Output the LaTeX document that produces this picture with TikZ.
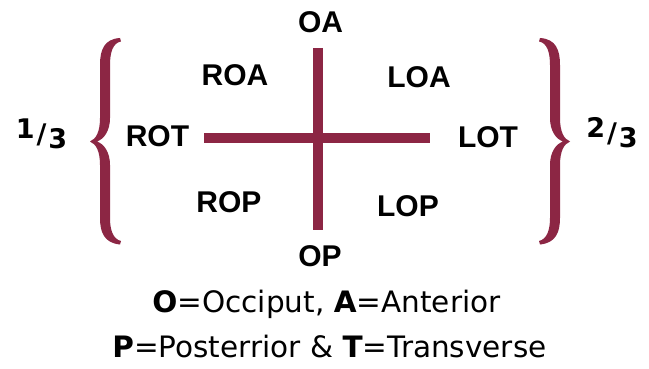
\documentclass[tikz,border=0pt]{standalone}
\usepackage{fontspec}
\setmainfont{Liberation Sans}
\newfontfamily\dejavu{DejaVu Sans}
\definecolor{maroon}{RGB}{140,38,68}
\tikzset{
  lbl/.style={font=\fontsize{30}{36}\selectfont\bfseries, inner sep=0pt, anchor=center},
  cross/.style={draw=maroon, line width=10pt},
  bracefill/.style={fill=maroon, draw=none},
  frac/.style={font=\dejavu\fontsize{27}{30}\selectfont\bfseries, inner sep=0pt},
  legend/.style={font=\dejavu\fontsize{29.5}{34}\selectfont, inner sep=0pt}
}
\newcommand{\mybracepath}{%
  (120,38) .. controls (104,39) and (100,50) .. (100,65)
  -- (100,118) .. controls (100,132) and (96,139) .. (90,141.5)
  .. controls (96,144) and (100,151) .. (100,165)
  -- (100,218) .. controls (100,232) and (104,243) .. (120,244.5)
  -- (121,241) .. controls (113,239) and (110,230) .. (110,218)
  -- (110,165) .. controls (110,152) and (104,144) .. (97,141.5)
  .. controls (104,139) and (110,131) .. (110,118)
  -- (110,65) .. controls (110,52) and (113,43) .. (121,41.5) -- cycle}
\begin{document}
\begin{tikzpicture}[x=1pt,y=-1pt]
\useasboundingbox (0,0) rectangle (649,369);
% cross
\coordinate (vt) at (318,48);
\coordinate (vb) at (318,230);
\coordinate (hl) at (204,138.5);
\coordinate (hr) at (430,138.5);
\draw[cross] (vt) -- (vb);
\draw[cross] (hl) -- (hr);
% braces
\fill[bracefill] \mybracepath;
\begin{scope}[shift={(660,0)}, xscale=-1]
\fill[bracefill] \mybracepath;
\end{scope}
% labels
\node[lbl] (oa) at (320.5,22.5) {OA};
\node[lbl] (op) at (320,256) {OP};
\node[lbl] (roa) at (235,75.5) {ROA};
\node[lbl] (loa) at (419,77.5) {LOA};
\node[lbl] (rot) at (157.5,136) {ROT};
\node[lbl] (lot) at (488,137.5) {LOT};
\node[lbl] (rop) at (229,202.5) {ROP};
\node[lbl] (lop) at (408,206) {LOP};
% fractions
\node[frac] (f1) at (41.5,134) {\raisebox{5pt}{1}\kern2pt/\kern2pt\raisebox{-5pt}{3}};
\node[frac] (f2) at (612,133) {\raisebox{5pt}{2}\kern2pt/\kern2pt\raisebox{-5pt}{3}};
% legend
\node[legend] (l1) at (326.5,304) {\textbf{O}=Occiput, \textbf{A}=Anterior};
\node[legend] (l2) at (329.5,347) {\textbf{P}=Posterrior \& \textbf{T}=Transverse};
\end{tikzpicture}
\end{document}
